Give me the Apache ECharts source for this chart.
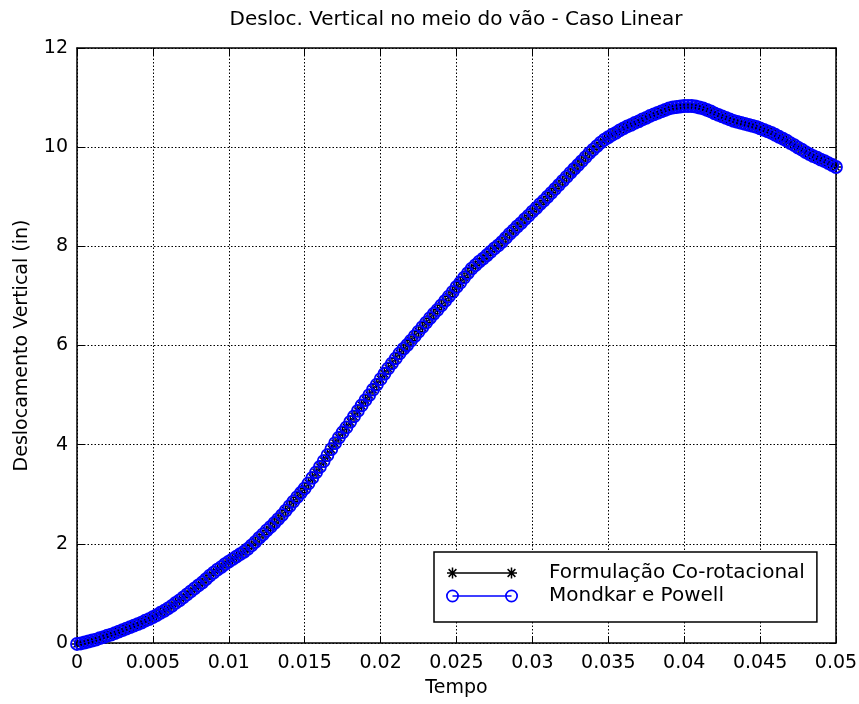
<!DOCTYPE html>
<html>
<head>
<meta charset="utf-8">
<script src="https://cdn.jsdelivr.net/npm/echarts@6/dist/echarts.min.js"></script>
<style>html,body{margin:0;padding:0;background:#fff;}#c{width:859px;height:704px;}</style>
</head>
<body>
<div id="c"></div>
<script>
// ---- data ----
var timeStep = 0.00025; // s, sampling of the values below
var corotacional = [
  -0.02, -0.01, 0.01, 0.03, 0.05, 0.07, 0.10, 0.12, 0.15, 0.17,
  0.20, 0.23, 0.26, 0.29, 0.32, 0.35, 0.38, 0.41, 0.45, 0.48,
  0.52, 0.56, 0.61, 0.65, 0.70, 0.75, 0.81, 0.86, 0.92, 0.98,
  1.04, 1.10, 1.16, 1.22, 1.29, 1.36, 1.42, 1.48, 1.53, 1.59,
  1.64, 1.69, 1.74, 1.79, 1.84, 1.90, 1.97, 2.04, 2.12, 2.19,
  2.27, 2.34, 2.42, 2.50, 2.58, 2.67, 2.76, 2.85, 2.94, 3.03,
  3.12, 3.22, 3.33, 3.44, 3.55, 3.67, 3.79, 3.91, 4.03, 4.14,
  4.25, 4.35, 4.46, 4.57, 4.68, 4.79, 4.90, 5.00, 5.11, 5.21,
  5.32, 5.43, 5.54, 5.64, 5.74, 5.84, 5.93, 6.01, 6.10, 6.19,
  6.28, 6.37, 6.46, 6.55, 6.64, 6.72, 6.81, 6.90, 6.99, 7.08,
  7.18, 7.27, 7.37, 7.46, 7.55, 7.62, 7.69, 7.75, 7.82, 7.89,
  7.96, 8.02, 8.09, 8.17, 8.25, 8.32, 8.40, 8.47, 8.55, 8.62,
  8.70, 8.77, 8.85, 8.92, 9.00, 9.08, 9.16, 9.24, 9.32, 9.40,
  9.48, 9.56, 9.64, 9.72, 9.80, 9.88, 9.95, 10.02, 10.09, 10.15,
  10.20, 10.25, 10.29, 10.34, 10.38, 10.42, 10.45, 10.49, 10.52, 10.56,
  10.59, 10.63, 10.66, 10.69, 10.72, 10.75, 10.78, 10.80, 10.81, 10.82,
  10.83, 10.83, 10.83, 10.82, 10.80, 10.78, 10.75, 10.72, 10.68, 10.65,
  10.62, 10.59, 10.56, 10.53, 10.51, 10.49, 10.47, 10.45, 10.43, 10.41,
  10.38, 10.35, 10.32, 10.29, 10.25, 10.21, 10.17, 10.13, 10.08, 10.04,
  9.99, 9.95, 9.90, 9.86, 9.82, 9.79, 9.75, 9.72, 9.68, 9.64,
  9.60
];
var mondkar = [
  -0.02, -0.01, 0.01, 0.03, 0.05, 0.07, 0.10, 0.12, 0.15, 0.17,
  0.20, 0.23, 0.26, 0.29, 0.32, 0.35, 0.38, 0.41, 0.45, 0.48,
  0.52, 0.56, 0.61, 0.65, 0.70, 0.75, 0.81, 0.86, 0.92, 0.98,
  1.04, 1.10, 1.16, 1.22, 1.29, 1.36, 1.42, 1.48, 1.53, 1.59,
  1.64, 1.69, 1.74, 1.79, 1.84, 1.90, 1.97, 2.04, 2.12, 2.19,
  2.27, 2.34, 2.42, 2.50, 2.58, 2.67, 2.76, 2.85, 2.94, 3.03,
  3.12, 3.22, 3.33, 3.44, 3.55, 3.67, 3.79, 3.91, 4.03, 4.14,
  4.25, 4.35, 4.46, 4.57, 4.68, 4.79, 4.90, 5.00, 5.11, 5.21,
  5.32, 5.43, 5.54, 5.64, 5.74, 5.84, 5.93, 6.01, 6.10, 6.19,
  6.28, 6.37, 6.46, 6.55, 6.64, 6.72, 6.81, 6.90, 6.99, 7.08,
  7.18, 7.27, 7.37, 7.46, 7.55, 7.62, 7.69, 7.75, 7.82, 7.89,
  7.96, 8.02, 8.09, 8.17, 8.25, 8.32, 8.40, 8.47, 8.55, 8.62,
  8.70, 8.77, 8.85, 8.92, 9.00, 9.08, 9.16, 9.24, 9.32, 9.40,
  9.48, 9.56, 9.64, 9.72, 9.80, 9.88, 9.95, 10.02, 10.09, 10.15,
  10.20, 10.25, 10.29, 10.34, 10.38, 10.42, 10.45, 10.49, 10.52, 10.56,
  10.59, 10.63, 10.66, 10.69, 10.72, 10.75, 10.78, 10.80, 10.81, 10.82,
  10.83, 10.83, 10.83, 10.82, 10.80, 10.78, 10.75, 10.72, 10.68, 10.65,
  10.62, 10.59, 10.56, 10.53, 10.51, 10.49, 10.47, 10.45, 10.43, 10.41,
  10.38, 10.35, 10.32, 10.29, 10.25, 10.21, 10.17, 10.13, 10.08, 10.04,
  9.99, 9.95, 9.90, 9.86, 9.82, 9.79, 9.75, 9.72, 9.68, 9.64,
  9.60
];
var seriesNames = ['Formulação Co-rotacional', 'Mondkar e Powell'];
var xTicks = {min: 0, max: 0.05, interval: 0.005};
var yTicks = {min: 0, max: 12, interval: 2};

function pairs(vals) {
  return vals.map(function (v, i) { return [+(i * timeStep).toFixed(6), v]; });
}

// ---- symbol paths (styling) ----
function f(n) { return n.toFixed(2); }
function asterisk(cx, cy, r, w) {
  var d = r * 0.7071, o = w / 2 * 0.7071, h = w / 2;
  return 'M' + f(cx - r) + ',' + f(cy - h) + ' L' + f(cx + r) + ',' + f(cy - h) + ' L' + f(cx + r) + ',' + f(cy + h) + ' L' + f(cx - r) + ',' + f(cy + h) + ' Z ' +
    'M' + f(cx - h) + ',' + f(cy - r) + ' L' + f(cx + h) + ',' + f(cy - r) + ' L' + f(cx + h) + ',' + f(cy + r) + ' L' + f(cx - h) + ',' + f(cy + r) + ' Z ' +
    'M' + f(cx - d - o) + ',' + f(cy - d + o) + ' L' + f(cx - d + o) + ',' + f(cy - d - o) + ' L' + f(cx + d + o) + ',' + f(cy + d - o) + ' L' + f(cx + d - o) + ',' + f(cy + d + o) + ' Z ' +
    'M' + f(cx + d - o) + ',' + f(cy - d - o) + ' L' + f(cx + d + o) + ',' + f(cy - d + o) + ' L' + f(cx - d + o) + ',' + f(cy + d + o) + ' L' + f(cx - d - o) + ',' + f(cy + d - o) + ' Z ';
}
function ring(cx, cy, r, w) {
  var ri = r - w;
  return 'M' + f(cx - r) + ',' + f(cy) + ' A' + r + ',' + r + ' 0 1 1 ' + f(cx + r) + ',' + f(cy) + ' A' + r + ',' + r + ' 0 1 1 ' + f(cx - r) + ',' + f(cy) + ' Z ' +
    'M' + f(cx - ri) + ',' + f(cy) + ' A' + ri + ',' + ri + ' 0 1 0 ' + f(cx + ri) + ',' + f(cy) + ' A' + ri + ',' + ri + ' 0 1 0 ' + f(cx - ri) + ',' + f(cy) + ' Z ';
}
function hline(x0, x1, cy, w) {
  return 'M' + f(x0) + ',' + f(cy - w / 2) + ' L' + f(x1) + ',' + f(cy - w / 2) + ' L' + f(x1) + ',' + f(cy + w / 2) + ' L' + f(x0) + ',' + f(cy + w / 2) + ' Z ';
}
var starSymbol = 'path://' + asterisk(5, 5, 5, 1.4);
var legendStar = 'path://' + asterisk(7, 7, 5.5, 1.5) + asterisk(66, 7, 5.5, 1.5) + hline(7, 66, 7, 1.3) +
  'M0.5,0.5 L0.6,0.5 L0.6,0.6 L0.5,0.6 Z M72.4,13.4 L72.5,13.4 L72.5,13.5 L72.4,13.5 Z';
var legendRing = 'path://' + ring(7, 7, 6.5, 1.7) + ring(66, 7, 6.5, 1.7) + hline(7, 66, 7, 1.3);

var FONT = 'DejaVu Sans';
var chart = echarts.init(document.getElementById('c'), null, {renderer: 'canvas'});
var axisCommon = {
  type: 'value',
  axisLine: {show: true, onZero: false, lineStyle: {color: '#000', width: 1.5}},
  axisTick: {show: true, inside: true, length: 7, lineStyle: {color: '#000', width: 1}},
  splitLine: {show: false},
  minorTick: {show: false}
};
function ax(extra) { return Object.assign({}, JSON.parse(JSON.stringify(axisCommon)), extra); }

chart.setOption({
  animation: false,
  backgroundColor: '#fff',
  title: {
    text: 'Desloc. Vertical no meio do vão - Caso Linear',
    left: 456, top: 10, textAlign: 'center', padding: 0,
    textStyle: {fontFamily: FONT, fontSize: 20, fontWeight: 'normal', color: '#000'}
  },
  grid: {left: 77, right: 23, top: 48, bottom: 61, containLabel: false, outerBoundsMode: 'none'},
  legend: {
    orient: 'vertical', left: 434, top: 552,
    padding: [11, 12, 16, 12],
    itemWidth: 72, itemHeight: 14, itemGap: 3,
    backgroundColor: '#fff', borderColor: '#000', borderWidth: 1.5, borderRadius: 0,
    selectedMode: false,
    textStyle: {fontFamily: FONT, fontSize: 20, color: '#000', lineHeight: 14, padding: [0, 0, 0, 26]},
    data: [
      {name: seriesNames[0], icon: legendStar, itemStyle: {color: '#000', borderWidth: 0}},
      {name: seriesNames[1], icon: legendRing, itemStyle: {color: '#0000ff', borderWidth: 0}}
    ]
  },
  xAxis: [
    ax({
      position: 'bottom', min: xTicks.min, max: xTicks.max, interval: xTicks.interval,
      name: 'Tempo', nameLocation: 'middle', nameGap: 36,
      nameTextStyle: {fontFamily: FONT, fontSize: 19, color: '#000'},
      axisLabel: {show: true, margin: 11, fontFamily: FONT, fontSize: 19, color: '#000',
        formatter: function (v) { return String(+v.toFixed(4)); }},
      splitLine: {show: true, lineStyle: {color: '#000', width: 1, type: [1.5, 2]}}
    }),
    ax({position: 'top', min: xTicks.min, max: xTicks.max, interval: xTicks.interval, axisLabel: {show: false}})
  ],
  yAxis: [
    ax({
      position: 'left', min: yTicks.min, max: yTicks.max, interval: yTicks.interval,
      name: 'Deslocamento Vertical (in)', nameLocation: 'middle', nameGap: 45, nameRotate: 90,
      nameTextStyle: {fontFamily: FONT, fontSize: 19, color: '#000'},
      axisLabel: {show: true, margin: 9, fontFamily: FONT, fontSize: 19, color: '#000'},
      splitLine: {show: true, lineStyle: {color: '#000', width: 1, type: [1.5, 2]}}
    }),
    ax({position: 'right', min: yTicks.min, max: yTicks.max, interval: yTicks.interval, axisLabel: {show: false}})
  ],
  series: [
    {
      name: seriesNames[0], type: 'line', xAxisIndex: 0, yAxisIndex: 0,
      data: pairs(corotacional), clip: false,
      symbol: starSymbol, symbolSize: 10, showSymbol: true, showAllSymbol: true,
      itemStyle: {color: '#000'},
      lineStyle: {color: '#000', width: 1},
      emphasis: {disabled: true}, z: 2
    },
    {
      name: seriesNames[1], type: 'line', xAxisIndex: 0, yAxisIndex: 0,
      data: pairs(mondkar), clip: false,
      symbol: 'circle', symbolSize: 12, showSymbol: true, showAllSymbol: true,
      itemStyle: {color: 'rgba(0,0,255,0)', borderColor: '#0000ff', borderWidth: 1.8},
      lineStyle: {color: '#0000ff', width: 1},
      emphasis: {disabled: true}, z: 3
    }
  ]
});
</script>
</body>
</html>
